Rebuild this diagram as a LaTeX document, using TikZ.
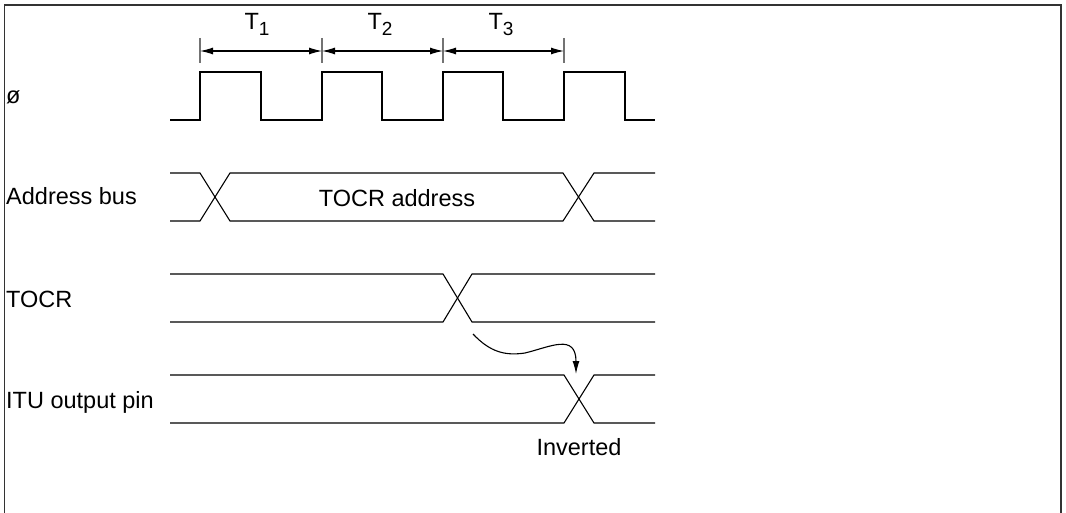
\documentclass[tikz,border=0pt]{standalone}
\usepackage{fontspec}
\setmainfont{Liberation Sans}
\usetikzlibrary{arrows.meta}
\begin{document}
\begin{tikzpicture}[x=1pt,y=-1pt,
  wave/.style={line width=1.1pt,line join=miter},
  lbl/.style={inner sep=0pt,anchor=base west,font=\fontsize{23.5}{28}\selectfont},
  txt/.style={inner sep=0pt,anchor=base,font=\fontsize{23.5}{28}\selectfont},
  tick/.style={line width=1.1pt,draw=black!55},
  dim/.style={line width=1.1pt,{Latex[length=13pt,width=7pt]}-{Latex[length=13pt,width=7pt]}},
  frame/.style={line width=1.6pt,draw=black!80}]
\useasboundingbox (0,0) rectangle (1066,513);
% frame (open at bottom)
\draw[frame] (4.5,513) -- (4.5,5) -- (1061,5) -- (1061,513);
% labels
\node[lbl] (phi) at (6,104) {ø};
\node[lbl] (ab) at (6,205) {Address bus};
\node[lbl] (tocr) at (6,307) {TOCR};
\node[lbl] (itu) at (6,408) {ITU output pin};
% period markers
\foreach \n/\x in {0/200,1/322,2/443,3/564}{
  \coordinate (t\n) at (\x,51);
  \draw[tick] (\x,38) -- (\x,63);
}
\draw[dim] (t0) -- (t1);
\draw[dim] (t1) -- (t2);
\draw[dim] (t2) -- (t3);
\node[txt] (T1) at (257,30) {T\raisebox{-0.45ex}{\fontsize{19}{20}\selectfont 1}};
\node[txt] (T2) at (380,30) {T\raisebox{-0.45ex}{\fontsize{19}{20}\selectfont 2}};
\node[txt] (T3) at (501,30) {T\raisebox{-0.45ex}{\fontsize{19}{20}\selectfont 3}};
% clock
\draw[wave] (170,120) -- (200,120) -- (200,72) -- (261,72) -- (261,120)
  -- (322,120) -- (322,72) -- (382,72) -- (382,120)
  -- (443,120) -- (443,72) -- (503,72) -- (503,120)
  -- (564,120) -- (564,72) -- (625,72) -- (625,120) -- (655,120);
% address bus
\draw[wave] (170,173) -- (200,173) -- (230,221) -- (563,221) -- (594,173) -- (655,173);
\draw[wave] (170,221) -- (200,221) -- (230,173) -- (563,173) -- (594,221) -- (655,221);
\node[txt] (addr) at (397,207) {TOCR address};
% TOCR
\draw[wave] (170,274) -- (443,274) -- (472,322) -- (655,322);
\draw[wave] (170,322) -- (443,322) -- (472,274) -- (655,274);
% ITU output pin
\draw[wave] (170,375) -- (564,375) -- (594,423) -- (655,423);
\draw[wave] (170,423) -- (564,423) -- (594,375) -- (655,375);
% causal arrow
\coordinate (cs) at (473,334);
\coordinate (cm) at (525,353);
\coordinate (ce) at (576,374);
\draw[line width=1.1pt,-{Latex[length=13pt,width=7pt]}] (cs) .. controls (490,352) and (505,356) .. (cm)
  .. controls (550,347) and (576,333) .. (ce);
\node[txt] (inv) at (579,455) {Inverted};
\end{tikzpicture}
\end{document}
